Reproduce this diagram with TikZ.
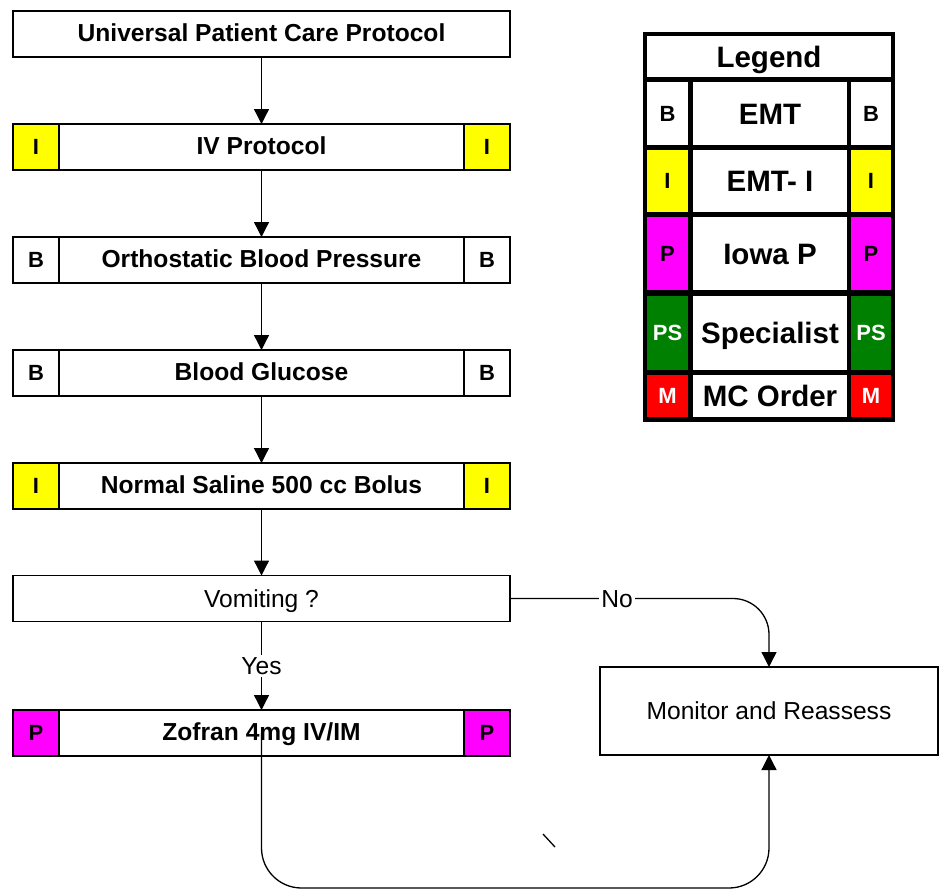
\documentclass[tikz,border=0pt]{standalone}
\usepackage{fontspec}
\setmainfont{Liberation Sans}
\usetikzlibrary{arrows.meta}
\definecolor{pyellow}{RGB}{255,255,0}
\definecolor{pmagenta}{RGB}{255,0,255}
\definecolor{pgreen}{RGB}{0,128,0}
\definecolor{pred}{RGB}{255,0,0}
\tikzset{
  box/.style={draw, line width=1.2pt, inner sep=0pt, outer sep=0pt, minimum width=497pt, minimum height=46pt,
    text height=17.6pt, text depth=2pt, font=\fontsize{24.6}{28}\selectfont\bfseries},
  plainbox/.style={box, text depth=0pt, font=\fontsize{24.6}{28}\selectfont},
  side/.style={draw, line width=1.2pt, inner sep=0pt, outer sep=0pt, minimum width=46pt, minimum height=46pt,
    text height=15.8pt, text depth=0pt, font=\fontsize{22}{26}\selectfont\bfseries},
  conn/.style={line width=1.3pt, -{Triangle[length=15pt,width=15pt]}},
  lbl/.style={fill=white, inner sep=2pt, text height=17.6pt, text depth=0pt, font=\fontsize{24.6}{28}\selectfont},
  cell/.style={fill=white, inner sep=0pt, outer sep=0pt, text height=21pt, text depth=0pt, font=\fontsize{29.5}{33}\selectfont\bfseries},
  lcell/.style={inner sep=0pt, outer sep=0pt, text height=15.8pt, text depth=0pt, font=\fontsize{22}{26}\selectfont\bfseries},
}
\begin{document}
\begin{tikzpicture}[x=1pt,y=-1pt]
\useasboundingbox (0,0) rectangle (939,891);
% flowchart boxes
\node[box] (upc) at (261.5,34) {Universal Patient Care Protocol};
\node[box] (iv) at (261.5,147) {IV Protocol};
\node[side, fill=pyellow] (ivl) at (36,147) {I};
\node[side, fill=pyellow] (ivr) at (487,147) {I};
\node[box] (ob) at (261.5,260) {Orthostatic Blood Pressure};
\node[side, fill=white] (obl) at (36,260) {B};
\node[side, fill=white] (obr) at (487,260) {B};
\node[box] (bg) at (261.5,373) {Blood Glucose};
\node[side, fill=white] (bgl) at (36,373) {B};
\node[side, fill=white] (bgr) at (487,373) {B};
\node[box] (ns) at (261.5,486) {Normal Saline 500 cc Bolus};
\node[side, fill=pyellow] (nsl) at (36,486) {I};
\node[side, fill=pyellow] (nsr) at (487,486) {I};
\node[plainbox] (vom) at (261.5,598.5) {Vomiting ?};
\node[box] (zof) at (261.5,733) {Zofran 4mg IV/IM};
\node[side, fill=pmagenta] (zofl) at (36,733) {P};
\node[side, fill=pmagenta] (zofr) at (487,733) {P};
\node[plainbox, minimum width=338pt, minimum height=88pt] (mon) at (769,711) {Monitor and Reassess};
% connectors
\draw[conn] (upc) -- (iv);
\draw[conn] (iv) -- (ob);
\draw[conn] (ob) -- (bg);
\draw[conn] (bg) -- (ns);
\draw[conn] (ns) -- (vom);
\draw[conn] (vom) -- node[lbl] {Yes} (zof);
\coordinate (nocorner) at (769,598.5);
\draw[conn, rounded corners=36pt] (vom.east) -- (nocorner) -- (mon.north);
\node[lbl] (nolab) at (617,598.5) {No};
\coordinate (bl) at (261.5,888);
\coordinate (br) at (769,888);
\draw[conn, rounded corners=40pt] (zof.center) -- (bl) -- (br) -- (mon.south);
\draw[line width=1.3pt] (543,834) -- (555,847);
% legend
\fill[black] (643,32) rectangle (895,422);
\node[cell, minimum width=244pt, minimum height=41pt] (lt) at (769,56.5) {Legend};
% row 1
\node[lcell, fill=white, minimum width=41pt, minimum height=63pt] (l1a) at (667.5,113.5) {B};
\node[cell, minimum width=154pt, minimum height=63pt] (l1b) at (770,113.5) {EMT};
\node[lcell, fill=white, minimum width=40pt, minimum height=63pt] (l1c) at (871,113.5) {B};
% row 2
\node[lcell, fill=pyellow, minimum width=41pt, minimum height=62pt] (l2a) at (667.5,181) {I};
\node[cell, minimum width=154pt, minimum height=62pt] (l2b) at (770,181) {EMT- I};
\node[lcell, fill=pyellow, minimum width=40pt, minimum height=62pt] (l2c) at (871,181) {I};
% row 3
\node[lcell, fill=pmagenta, minimum width=41pt, minimum height=73pt] (l3a) at (667.5,253.5) {P};
\node[cell, minimum width=154pt, minimum height=73pt] (l3b) at (770,253.5) {Iowa P};
\node[lcell, fill=pmagenta, minimum width=40pt, minimum height=73pt] (l3c) at (871,253.5) {P};
% row 4
\node[lcell, fill=pgreen, text=white, minimum width=41pt, minimum height=74pt] (l4a) at (667.5,333) {PS};
\node[cell, minimum width=154pt, minimum height=74pt] (l4b) at (770,333) {Specialist};
\node[lcell, fill=pgreen, text=white, minimum width=40pt, minimum height=74pt] (l4c) at (871,333) {PS};
% row 5
\node[lcell, fill=pred, text=white, minimum width=41pt, minimum height=42pt] (l5a) at (667.5,396) {M};
\node[cell, minimum width=154pt, minimum height=42pt] (l5b) at (770,396) {MC Order};
\node[lcell, fill=pred, text=white, minimum width=40pt, minimum height=42pt] (l5c) at (871,396) {M};
\end{tikzpicture}
\end{document}
